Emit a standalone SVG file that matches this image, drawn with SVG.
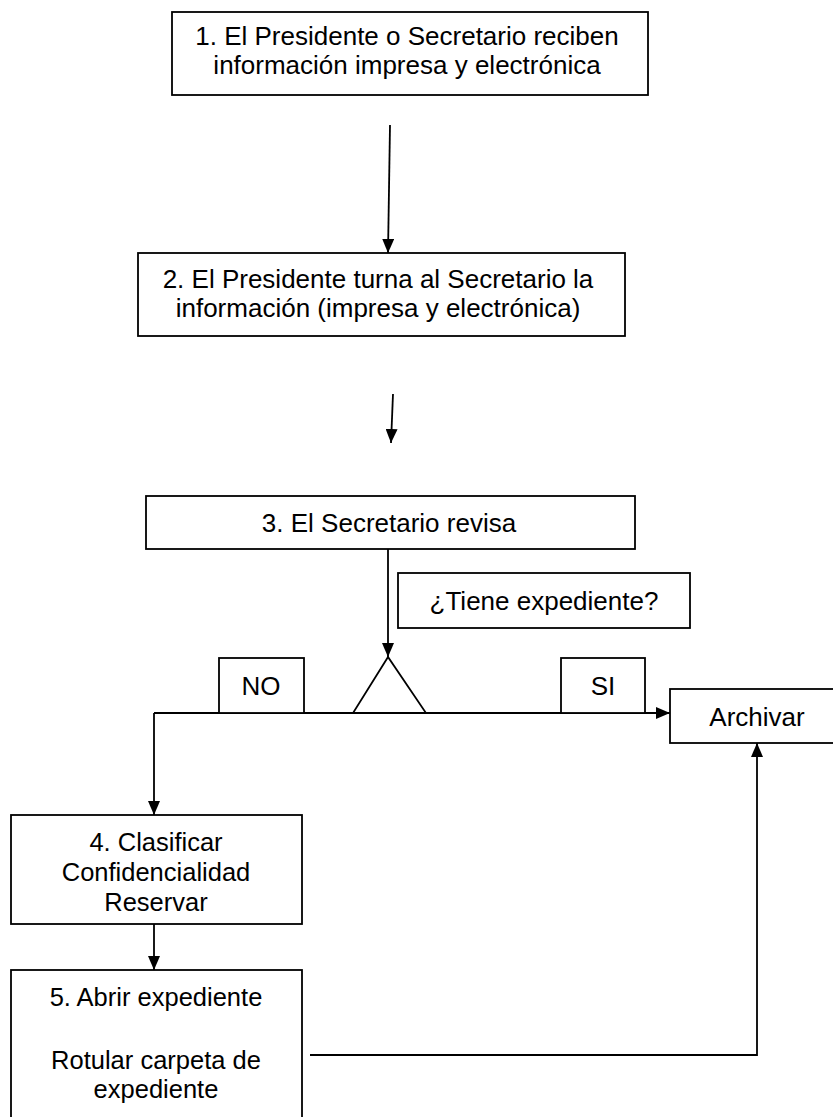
<svg xmlns="http://www.w3.org/2000/svg" width="833" height="1117" viewBox="0 0 833 1117">
<defs>
<style>
.box{fill:#fff;stroke:#000;stroke-width:1.8}
.t{font-family:"Liberation Sans",Arial,sans-serif;font-size:26px;fill:#000;text-anchor:middle}
.s{font-size:25.5px}
.c{fill:none;stroke:#000;stroke-width:1.8}
</style>
<marker id="ah" markerWidth="14" markerHeight="12" refX="14" refY="6" orient="auto" markerUnits="userSpaceOnUse">
<path d="M0,0 L14,6 L0,12 Z" fill="#000"/>
</marker>
</defs>
<rect width="833" height="1117" fill="#fff"/>
<g id="connectors">
<line class="c" x1="390" y1="125" x2="388" y2="253" marker-end="url(#ah)"/>
<line class="c" x1="393" y1="394" x2="391" y2="443" marker-end="url(#ah)"/>
<line class="c" x1="388" y1="549" x2="388" y2="657" marker-end="url(#ah)"/>
<line class="c" x1="154" y1="713" x2="670" y2="713" marker-end="url(#ah)"/>
<line class="c" x1="154" y1="713" x2="154" y2="815" marker-end="url(#ah)"/>
<line class="c" x1="154" y1="924" x2="154" y2="970" marker-end="url(#ah)"/>
<polyline class="c" points="310,1055 757,1055 757,743" marker-end="url(#ah)"/>
</g>
<g id="n1"><rect class="box" x="172" y="12" width="476" height="83"/>
<text class="t" x="407" y="45">1. El Presidente o Secretario reciben</text>
<text class="t" x="407" y="74">información impresa y electrónica</text></g>
<g id="n2"><rect class="box" x="138" y="253" width="487" height="83"/>
<text class="t" x="378" y="288">2. El Presidente turna al Secretario la</text>
<text class="t" x="378" y="317">información (impresa y electrónica)</text></g>
<g id="n3"><rect class="box" x="146" y="496" width="489" height="53"/>
<text class="t" x="389" y="532">3. El Secretario revisa</text></g>
<g id="q"><rect class="box" x="398" y="573" width="292" height="55"/>
<text class="t" x="544" y="610">¿Tiene expediente?</text></g>
<g id="dec"><polygon class="box" points="388,657 353,713 426,713"/></g>
<g id="no"><rect class="box" x="219" y="658" width="85" height="55"/>
<text class="t" x="261" y="695">NO</text></g>
<g id="si"><rect class="box" x="561" y="658" width="84" height="55"/>
<text class="t" x="603" y="695">SI</text></g>
<g id="arch"><rect class="box" x="670" y="689" width="166" height="54"/>
<text class="t" x="757" y="726">Archivar</text></g>
<g id="n4"><rect class="box" x="11" y="815" width="291" height="109"/>
<text class="t s" x="156" y="851">4. Clasificar</text>
<text class="t s" x="156" y="881">Confidencialidad</text>
<text class="t s" x="156" y="911">Reservar</text></g>
<g id="n5"><rect class="box" x="11" y="970" width="291" height="160"/>
<text class="t s" x="156" y="1006">5. Abrir expediente</text>
<text class="t s" x="156" y="1069">Rotular carpeta de</text>
<text class="t s" x="156" y="1098">expediente</text></g>
</svg>
